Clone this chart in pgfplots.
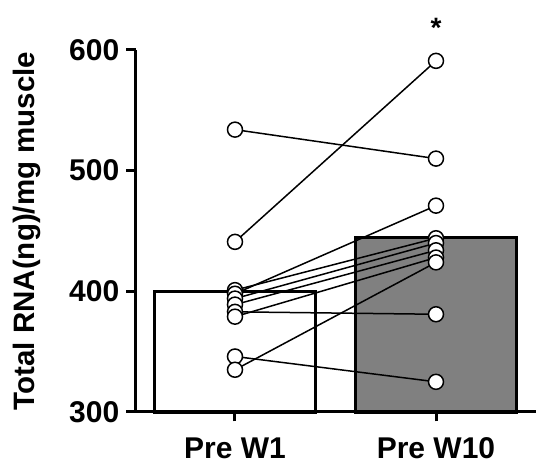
\documentclass[border=0pt]{standalone}
\usepackage{fontspec}
\setmainfont{Liberation Sans}
\usepackage{pgfplots}
\pgfplotsset{compat=1.18}

\begin{document}
\begin{tikzpicture}
\begin{axis}[
  scale only axis, width=400pt, height=362pt,
  xmin=-0.4925, xmax=1.4975, ymin=300, ymax=600,
  axis x line*=bottom, axis y line*=left,
  axis line style={line width=3pt},
  xtick={0,1}, xticklabels={Pre W1,Pre W10},
  ytick={300,400,500,600},
  tick align=outside, major tick length=9.5pt,
  tick style={line width=3pt, black},
  /pgf/number format/assume math mode=true,
  ticklabel style={font=\fontsize{30}{34}\selectfont\bfseries},
  yticklabel style={inner sep=7pt},
  xticklabel style={yshift=-13pt},
  ylabel={Total RNA(ng)/mg muscle},
  ylabel style={font=\fontsize{29.5}{33}\selectfont\bfseries, at={(axis description cs:-0.2525,0.5)}, anchor=base},
  clip=false,
]
% group means
\addplot[ybar, bar width=0.8, bar shift=0pt, fill=white, draw=black, line width=3.2pt] coordinates {(0,400)};
\addplot[ybar, bar width=0.8, bar shift=0pt, fill=black!50, draw=black, line width=3.2pt] coordinates {(1,444.8)};
% paired subjects
\addplot[black, line width=1.5pt] coordinates {(0,534) (1,510)};
\addplot[black, line width=1.5pt] coordinates {(0,441) (1,591)};
\addplot[black, line width=1.5pt] coordinates {(0,401) (1,444)};
\addplot[black, line width=1.5pt] coordinates {(0,398) (1,471)};
\addplot[black, line width=1.5pt] coordinates {(0,394) (1,440)};
\addplot[black, line width=1.5pt] coordinates {(0,389) (1,434)};
\addplot[black, line width=1.5pt] coordinates {(0,383) (1,381)};
\addplot[black, line width=1.5pt] coordinates {(0,379) (1,428)};
\addplot[black, line width=1.5pt] coordinates {(0,346) (1,325)};
\addplot[black, line width=1.5pt] coordinates {(0,335) (1,424)};
% markers on top
\addplot[only marks, mark=*, mark size=7.5pt, mark options={fill=white, draw=black, line width=1.5pt}] coordinates {
  (0,534) (0,441) (0,401) (0,398) (0,394) (0,389) (0,383) (0,379) (0,346) (0,335)
  (1,510) (1,591) (1,444) (1,471) (1,440) (1,434) (1,381) (1,428) (1,325) (1,424)
};
\node[font=\fontsize{28}{32}\selectfont\bfseries] at (axis cs:1,600) [yshift=22pt] {*};
\end{axis}
\pgfresetboundingbox
\path[use as bounding box] (-136pt,-53pt) rectangle (400pt,412pt);
\end{tikzpicture}
\end{document}
